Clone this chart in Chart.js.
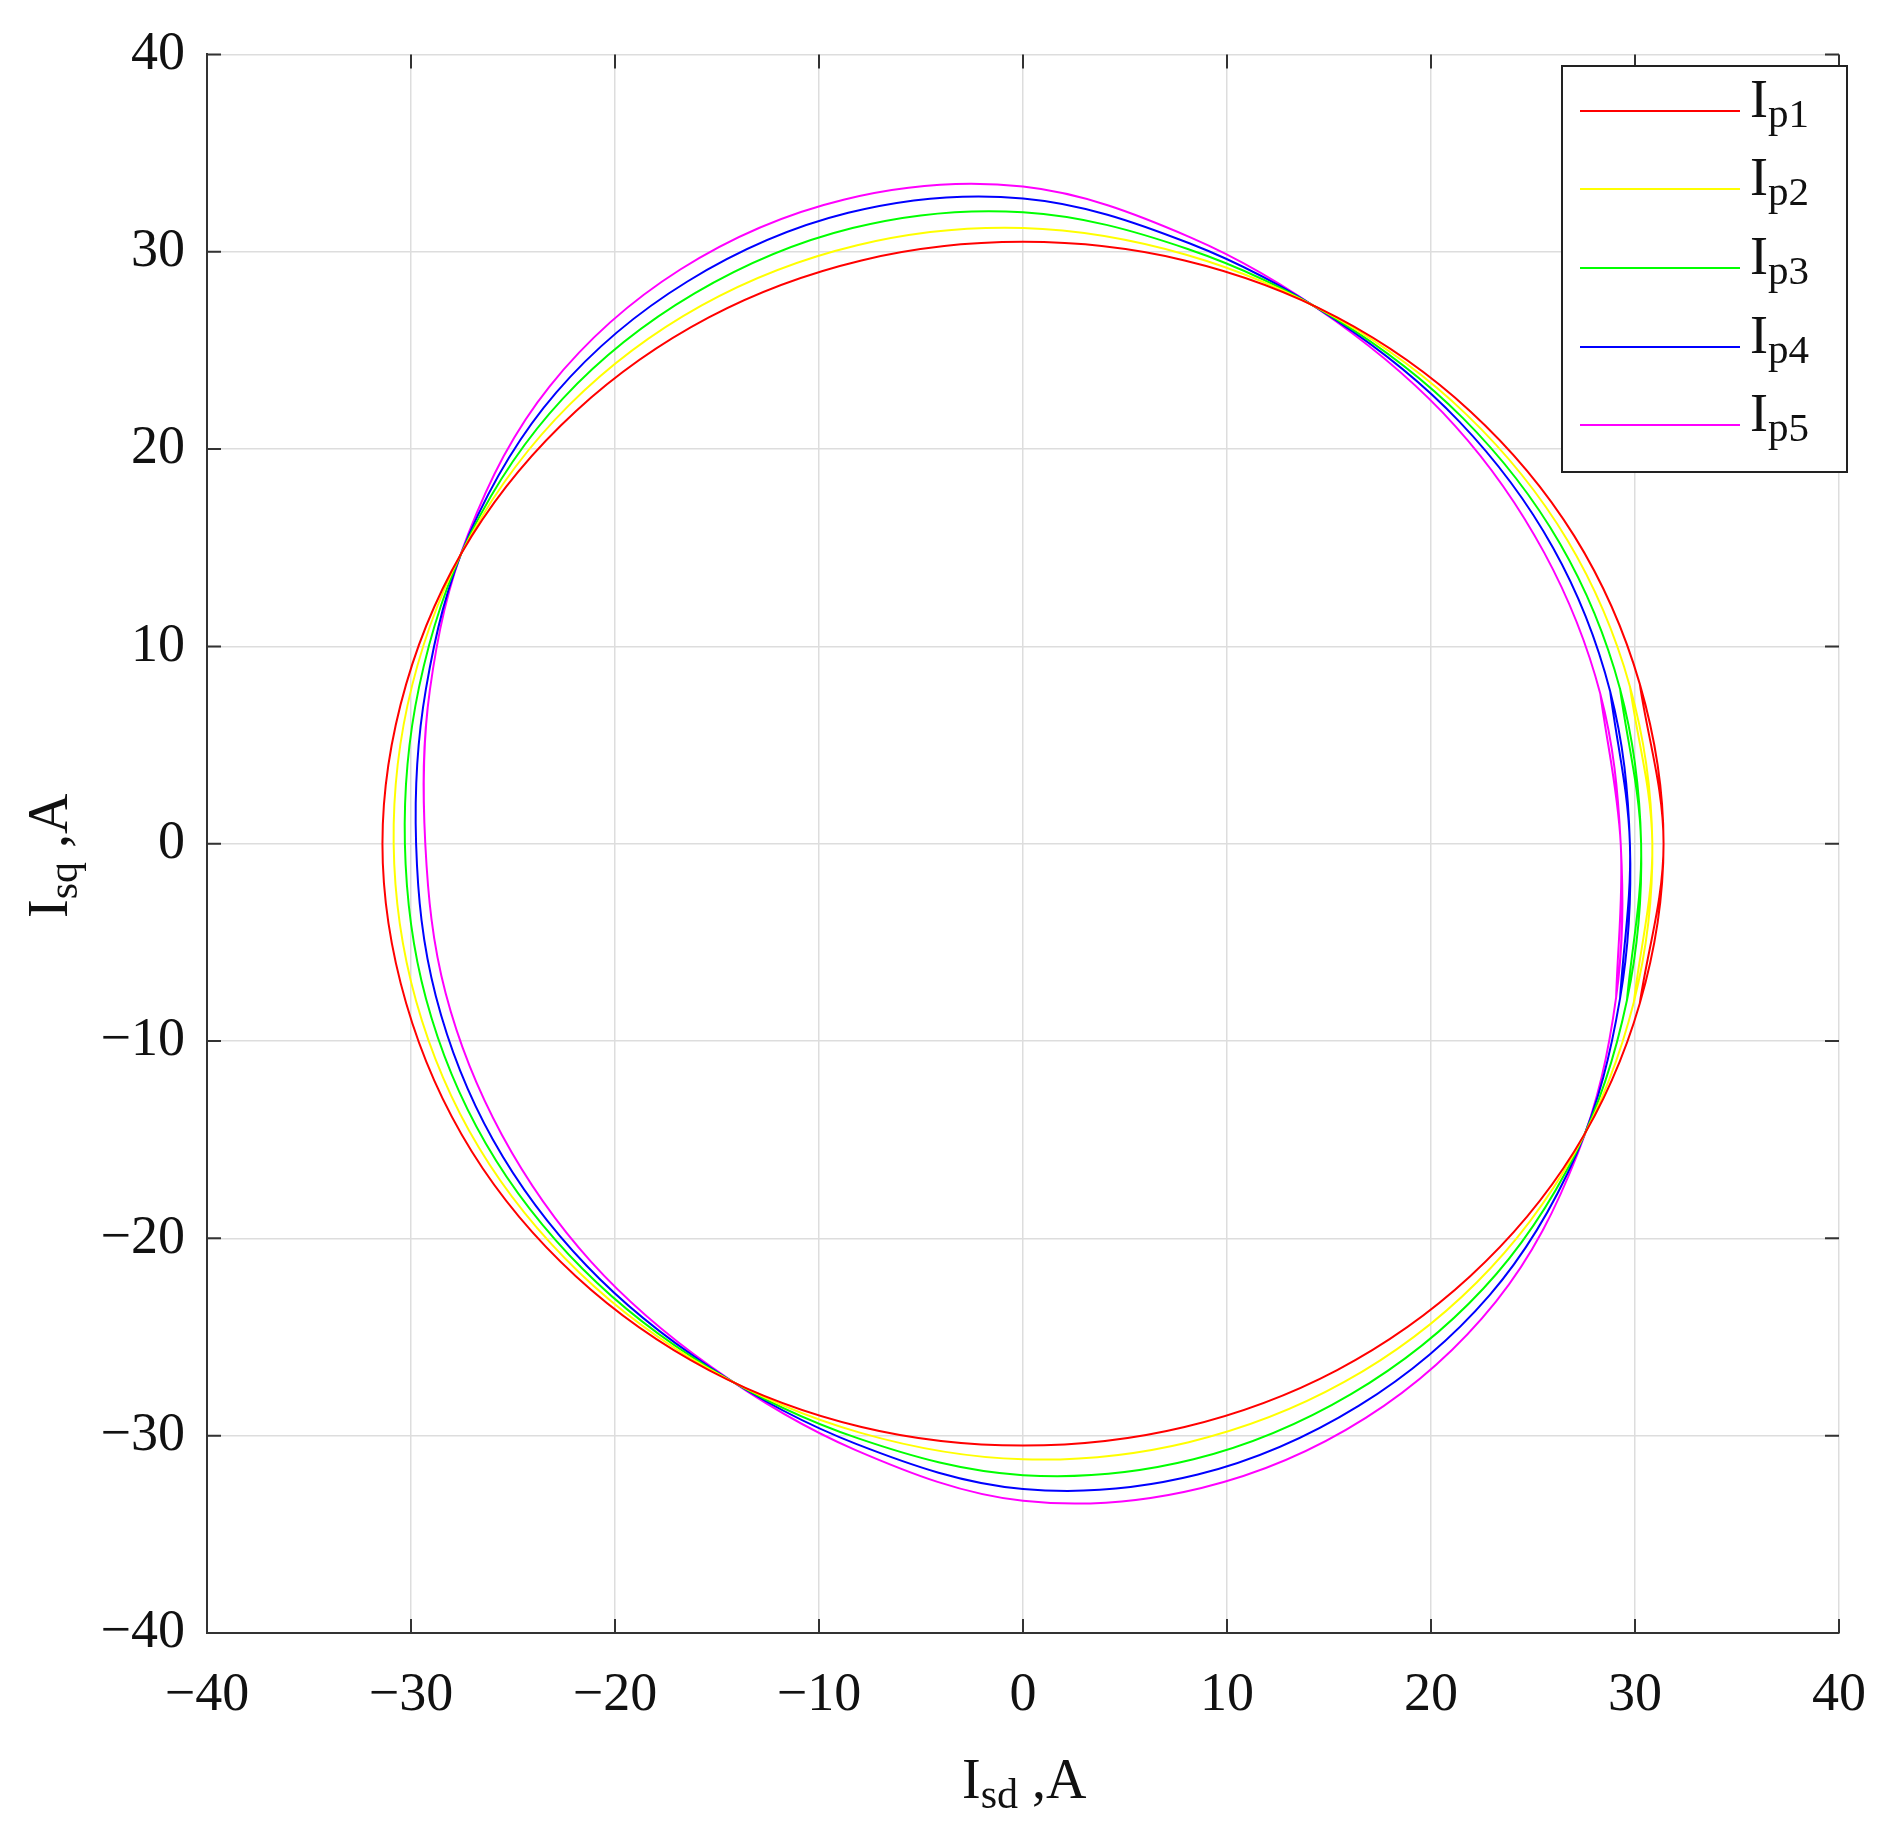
<!DOCTYPE html>
<html>
<head>
<meta charset="utf-8">
<script src="https://cdn.jsdelivr.net/npm/chart.js@4/dist/chart.umd.min.js"></script>
<style>
  body { margin: 0; background: #fff; }
  #wrap { width: 1896px; height: 1844px; }
</style>
</head>
<body>
<div id="wrap"><canvas id="c"></canvas></div>
<script>
// angle of each sample (deg), radius of each curve
var angles = [0, 15, 30, 45, 60, 75, 90, 105, 120, 135, 150, 165,
              180, 195, 210, 225, 240, 255, 270, 285, 300, 315, 330, 345];
var rIp1 = [31.4, 31.3, 31.2, 31.0, 30.8, 30.6, 30.5, 30.6, 30.8, 31.0, 31.2, 31.3,
            31.4, 31.3, 31.2, 31.0, 30.8, 30.6, 30.5, 30.6, 30.8, 31.0, 31.2, 31.3];
var rIp2 = [30.85, 30.8, 30.8, 30.75, 30.75, 30.9, 31.2, 31.4, 31.5, 31.45, 31.25, 31.0,
            30.85, 30.8, 30.8, 30.75, 30.75, 30.9, 31.2, 31.4, 31.5, 31.45, 31.25, 31.0];
var rIp3 = [30.3, 30.3, 30.4, 30.5, 30.7, 31.2, 32.0, 32.3, 32.2, 31.9, 31.3, 30.65,
            30.3, 30.3, 30.4, 30.5, 30.7, 31.2, 32.0, 32.3, 32.2, 31.9, 31.3, 30.65];
var rIp4 = [29.75, 29.8, 30.0, 30.25, 30.65, 31.5, 32.7, 33.1, 32.9, 32.35, 31.35, 30.3,
            29.75, 29.8, 30.0, 30.25, 30.65, 31.5, 32.7, 33.1, 32.9, 32.35, 31.35, 30.3];
var rIp5 = [29.3, 29.3, 29.5, 29.95, 30.6, 31.8, 33.3, 33.8, 33.6, 32.8, 31.4, 30.1,
            29.3, 29.3, 29.5, 29.95, 30.6, 31.8, 33.3, 33.8, 33.6, 32.8, 31.4, 30.1];
var seriesNames = ['1', '2', '3', '4', '5'];
var seriesColors = ['#ff0000', '#ffff00', '#00ff00', '#0000ff', '#ff00ff'];
var tickValues = [-40, -30, -20, -10, 0, 10, 20, 30, 40];

// closed curve: run one sample past each end so the spline has no corner at the seam
function toPoints(radii) {
  var pts = [];
  var n = angles.length;
  for (var i = -1; i <= n + 1; i++) {
    var k = (i + n) % n;
    var a = angles[k] * Math.PI / 180;
    pts.push({ x: radii[k] * Math.cos(a), y: radii[k] * Math.sin(a) });
  }
  return pts;
}

var allRadii = [rIp1, rIp2, rIp3, rIp4, rIp5];
var datasets = allRadii.map(function (r, i) {
  return {
    data: toPoints(r),
    showLine: true,
    borderColor: seriesColors[i],
    borderWidth: 2,
    pointRadius: 0,
    tension: 0.35,
    fill: false
  };
});

function fmt(v) { return v < 0 ? '\u2212' + Math.abs(v) : '' + v; }

// text with a subscript, like I_p1
function subText(ctx, x, y, main, sub, rest, size) {
  ctx.font = size + 'px "Liberation Serif", "Times New Roman", serif';
  ctx.fillText(main, x, y);
  var w = ctx.measureText(main).width;
  ctx.font = Math.round(size * 0.75) + 'px "Liberation Serif", "Times New Roman", serif';
  ctx.fillText(sub, x + w, y + size * 0.25);
  var w2 = ctx.measureText(sub).width;
  ctx.font = size + 'px "Liberation Serif", "Times New Roman", serif';
  ctx.fillText(rest, x + w + w2, y);
  return w + w2 + ctx.measureText(rest).width;
}

var extras = {
  id: 'extras',
  afterDraw: function (chart) {
    var ctx = chart.ctx;
    var area = chart.chartArea;
    ctx.save();
    ctx.fillStyle = '#111';
    ctx.textBaseline = 'middle';
    ctx.textAlign = 'left';

    var w = 160;
    subText(ctx, 1042 - w / 2, 1783, 'I', 'sd', ' ,A', 56);

    ctx.save();
    ctx.translate(52, 843);
    ctx.rotate(-Math.PI / 2);
    subText(ctx, -w / 2 + 5, 0, 'I', 'sq', ' ,A', 56);
    ctx.restore();

    // inner tick marks
    ctx.strokeStyle = '#333';
    ctx.lineWidth = 2;
    var xs = chart.scales.x, ys = chart.scales.y;
    tickValues.forEach(function (v) {
      var px = xs.getPixelForValue(v), py = ys.getPixelForValue(v);
      ctx.beginPath();
      ctx.moveTo(px, area.bottom); ctx.lineTo(px, area.bottom - 14);
      ctx.moveTo(px, area.top); ctx.lineTo(px, area.top + 14);
      ctx.moveTo(area.left, py); ctx.lineTo(area.left + 14, py);
      ctx.moveTo(area.right, py); ctx.lineTo(area.right - 14, py);
      ctx.stroke();
    });

    // legend
    ctx.fillStyle = '#fff';
    ctx.fillRect(1562, 66, 285, 406);
    ctx.strokeStyle = '#222';
    ctx.lineWidth = 2;
    ctx.strokeRect(1562, 66, 285, 406);
    var rows = [111, 189, 268, 347, 425];
    seriesNames.forEach(function (n, i) {
      ctx.strokeStyle = seriesColors[i];
      ctx.beginPath();
      ctx.moveTo(1580, rows[i]); ctx.lineTo(1740, rows[i]);
      ctx.stroke();
      ctx.fillStyle = '#111';
      subText(ctx, 1750, rows[i] - 8, 'I', 'p' + n, '', 54);
    });
    ctx.restore();
  }
};

new Chart(document.getElementById('c'), {
  type: 'scatter',
  data: { datasets: datasets },
  options: {
    responsive: true,
    maintainAspectRatio: false,
    animation: false,
    layout: { padding: { left: 0, top: 51, right: 36, bottom: 0 } },
    plugins: { legend: { display: false }, tooltip: { enabled: false } },
    scales: {
      x: {
        min: -40, max: 40,
        afterBuildTicks: function (s) { s.ticks = tickValues.map(function (v) { return { value: v }; }); },
        afterFit: function (s) { s.height = 211; },
        grid: { color: '#dddddd', lineWidth: 1.5, drawTicks: false },
        border: { color: '#333', width: 2 },
        ticks: {
          padding: 30, color: '#111',
          font: { family: '"Liberation Serif", serif', size: 54 },
          callback: fmt, maxRotation: 0
        }
      },
      y: {
        min: -40, max: 40,
        afterBuildTicks: function (s) { s.ticks = tickValues.map(function (v) { return { value: v }; }); },
        afterFit: function (s) { s.width = 207; },
        grid: { color: '#dddddd', lineWidth: 1.5, drawTicks: false },
        border: { color: '#333', width: 2 },
        ticks: {
          padding: 22, color: '#111',
          font: { family: '"Liberation Serif", serif', size: 54 },
          callback: fmt
        }
      }
    }
  },
  plugins: [extras]
});
</script>
</body>
</html>
